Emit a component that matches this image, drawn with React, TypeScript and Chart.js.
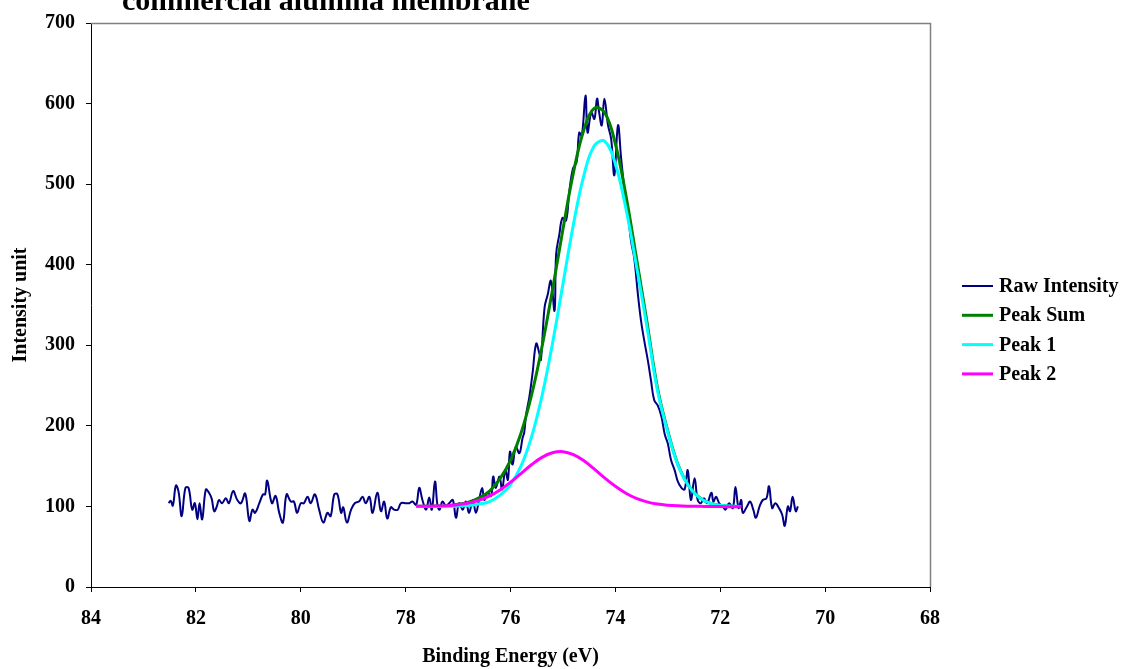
import React, { useEffect, useRef } from "react";
import { Chart, registerables } from "chart.js";

Chart.register(...registerables);

const CHART_TITLE = "commercial alumina membrane";
const X_TITLE = "Binding Energy (eV)";
const Y_TITLE = "Intensity unit";
const SERIES_LABELS = ["Raw Intensity", "Peak Sum", "Peak 1", "Peak 2"];
const SERIES_COLORS = ["#000080", "#008000", "#00FFFF", "#FF00FF"];

const X_MIN = 68;
const X_MAX = 84;
const X_STEP = 2;
const Y_MIN = 0;
const Y_MAX = 700;
const Y_STEP = 100;

const rawEnergy = [
  82.52, 82.48, 82.44, 82.38, 82.33, 82.27, 82.2, 82.14, 82.07, 82.02, 81.97, 81.93, 81.88, 81.81, 81.75, 81.7,
  81.65, 81.6, 81.56, 81.5, 81.43, 81.37, 81.29, 81.21, 81.14, 81.06, 80.98, 80.92, 80.87, 80.79, 80.72, 80.68,
  80.64, 80.55, 80.48, 80.41, 80.34, 80.27, 80.19, 80.13, 80.07, 80.0, 79.94, 79.87, 79.81, 79.73, 79.65, 79.57,
  79.49, 79.43, 79.36, 79.3, 79.23, 79.19, 79.12, 79.04, 78.97, 78.89, 78.82, 78.76, 78.69, 78.63, 78.54, 78.47,
  78.41, 78.35, 78.28, 78.22, 78.15, 78.09, 77.99, 77.93, 77.87, 77.8, 77.74, 77.68, 77.61, 77.55, 77.5, 77.44,
  77.39, 77.35, 77.3, 77.23, 77.17, 77.1, 77.04, 76.98, 76.91, 76.85, 76.79, 76.72, 76.66, 76.6, 76.54, 76.5,
  76.44, 76.37, 76.33, 76.28, 76.21, 76.16, 76.1, 76.05, 76.01, 75.96, 75.9, 75.83, 75.77, 75.74, 75.7, 75.64,
  75.58, 75.51, 75.45, 75.42, 75.35, 75.29, 75.23, 75.16, 75.13, 75.07, 75.01, 74.94, 74.88, 74.81, 74.74, 74.69,
  74.64, 74.57, 74.53, 74.46, 74.4, 74.35, 74.31, 74.26, 74.21, 74.14, 74.08, 74.02, 73.95, 73.89, 73.83, 73.76,
  73.7, 73.64, 73.57, 73.51, 73.45, 73.38, 73.32, 73.26, 73.19, 73.12, 73.06, 73.0, 72.94, 72.87, 72.81, 72.74,
  72.68, 72.62, 72.56, 72.49, 72.43, 72.37, 72.31, 72.25, 72.17, 72.13, 72.08, 72.02, 71.95, 71.9, 71.83, 71.76,
  71.71, 71.65, 71.6, 71.57, 71.49, 71.43, 71.37, 71.32, 71.25, 71.19, 71.12, 71.07, 71.01, 70.95, 70.88, 70.82,
  70.77, 70.71, 70.67, 70.62, 70.56, 70.52,
];

const rawIntensity = [
  104, 107, 101, 126, 118, 88, 123, 123, 96, 104, 84, 104, 84, 121, 117, 110,
  94, 100, 108, 104, 110, 104, 119, 108, 104, 116, 82, 96, 92, 104, 115, 115,
  132, 104, 113, 92, 80, 115, 106, 106, 92, 104, 104, 112, 104, 115, 96, 80,
  92, 88, 115, 115, 92, 99, 80, 96, 104, 106, 112, 104, 112, 92, 117, 94,
  106, 85, 99, 96, 96, 104, 104, 104, 106, 102, 123, 108, 96, 111, 96, 131,
  100, 96, 106, 101, 104, 108, 86, 104, 96, 106, 92, 108, 92, 108, 123, 108,
  117, 113, 137, 123, 137, 121, 145, 133, 168, 152, 174, 166, 185, 191, 215, 236,
  265, 302, 290, 282, 347, 363, 380, 343, 413, 437, 458, 455, 490, 519, 527, 564,
  560, 610, 564, 589, 581, 606, 589, 573, 606, 573, 556, 511, 573, 532, 495, 462,
  429, 408, 363, 330, 306, 281, 256, 232, 225, 211, 190, 178, 158, 145, 131, 123,
  121, 145, 108, 135, 108, 104, 110, 104, 117, 106, 112, 104, 100, 96, 104, 98,
  124, 98, 108, 92, 100, 106, 96, 86, 100, 108, 110, 125, 98, 104, 98, 90,
  76, 100, 94, 112, 94, 100,
];

const fitEnergy = [
  77.8, 77.6, 77.4, 77.2, 77.0, 76.8, 76.6, 76.4, 76.2, 76.0, 75.8, 75.6, 75.4, 75.2, 75.0, 74.8,
  74.6, 74.4, 74.2, 74.0, 73.8, 73.6, 73.4, 73.2, 73.0, 72.8, 72.6, 72.4, 72.2, 72.0, 71.8, 71.6,
];

const peakSum = [
  100.1, 100.2, 100.4, 101, 102.6, 105.2, 110.7, 119, 134.5, 157, 190.8, 237.7, 297.9, 368.6, 444, 514.3,
  567.6, 594.3, 588.2, 550, 486.4, 409, 329.7, 248, 193.5, 150.7, 125.3, 111.1, 104, 101.3, 100.3, 99.5,
];

const peak1 = [
  100, 100, 100, 100, 100.4, 101, 103, 106, 114, 127, 150, 186, 237, 302, 376, 450,
  511, 548, 553, 525, 470, 399, 324, 245, 192, 150, 125, 111, 104, 101.5, 100.5, 100,
];

const peak2 = [
  100.1, 100.2, 100.4, 101, 102.2, 104.2, 107.7, 113, 120.5, 130, 140.8, 151.7, 160.9, 166.6, 168, 164.3,
  156.6, 146.3, 135.2, 125, 116.4, 110, 105.7, 103, 101.5, 100.7, 100.3, 100.1, 100, 99.8, 99.6, 99.5,
];

const FONT_FAMILY = '"Liberation Serif", "Times New Roman", Times, serif';

const toPoints = (xs: number[], ys: number[]) => xs.map((x, i) => ({ x, y: ys[i] }));

const frameLegendTitlePlugin = {
  id: "frameLegendTitle",
  beforeDatasetsDraw(chart: any) {
    const { ctx, chartArea } = chart;
    ctx.save();
    ctx.strokeStyle = "#808080";
    ctx.lineWidth = 1.5;
    ctx.beginPath();
    ctx.moveTo(chartArea.left, chartArea.top + 0.5);
    ctx.lineTo(chartArea.right + 0.5, chartArea.top + 0.5);
    ctx.lineTo(chartArea.right + 0.5, chartArea.bottom);
    ctx.stroke();
    ctx.restore();
  },
  afterDraw(chart: any) {
    const { ctx } = chart;
    ctx.save();
    // title (partly cut off at the top, as in the reference)
    ctx.font = `bold 30px ${FONT_FAMILY}`;
    ctx.fillStyle = "#000";
    ctx.textAlign = "left";
    ctx.textBaseline = "alphabetic";
    ctx.fillText(CHART_TITLE, 122, 10);

    // legend
    ctx.font = `bold 20px ${FONT_FAMILY}`;
    ctx.textBaseline = "middle";
    chart.data.datasets.forEach((ds: any, i: number) => {
      const y = 286 + i * 29.3;
      ctx.strokeStyle = ds.borderColor;
      ctx.lineWidth = ds.borderWidth;
      ctx.beginPath();
      ctx.moveTo(962, y);
      ctx.lineTo(993, y);
      ctx.stroke();
      ctx.fillStyle = "#000";
      ctx.fillText(ds.label, 999, y + 1);
    });
    ctx.restore();
  },
};

export default function App() {
  const canvasRef = useRef<HTMLCanvasElement | null>(null);

  useEffect(() => {
    if (!canvasRef.current) return;
    Chart.defaults.font.family = FONT_FAMILY;
    Chart.defaults.color = "#000";

    const chart = new Chart(canvasRef.current, {
      type: "line",
      data: {
        datasets: [
          {
            label: SERIES_LABELS[0],
            data: toPoints(rawEnergy, rawIntensity),
            borderColor: SERIES_COLORS[0],
            borderWidth: 2,
            pointRadius: 0,
            tension: 0.4,
            order: 4,
          },
          {
            label: SERIES_LABELS[1],
            data: toPoints(fitEnergy, peakSum),
            borderColor: SERIES_COLORS[1],
            borderWidth: 3,
            pointRadius: 0,
            tension: 0.4,
            order: 3,
          },
          {
            label: SERIES_LABELS[2],
            data: toPoints(fitEnergy, peak1),
            borderColor: SERIES_COLORS[2],
            borderWidth: 3,
            pointRadius: 0,
            tension: 0.4,
            order: 2,
          },
          {
            label: SERIES_LABELS[3],
            data: toPoints(fitEnergy, peak2),
            borderColor: SERIES_COLORS[3],
            borderWidth: 3,
            pointRadius: 0,
            tension: 0.4,
            order: 1,
          },
        ],
      },
      options: {
        animation: false,
        responsive: false,
        devicePixelRatio: 1,
        layout: { padding: { left: 0, top: 20, right: 192, bottom: 0 } },
        plugins: {
          legend: { display: false },
          title: { display: false },
          tooltip: { enabled: false },
        },
        scales: {
          x: {
            type: "linear",
            min: X_MIN,
            max: X_MAX,
            reverse: true,
            afterFit: (s: any) => {
              s.height = 82;
            },
            ticks: {
              stepSize: X_STEP,
              padding: 15,
              font: { size: 20, weight: "bold" },
              color: "#000",
              maxRotation: 0,
            },
            grid: { drawOnChartArea: false, drawTicks: true, tickLength: 5, color: "#000" },
            border: { color: "#000", width: 1 },
            title: {
              display: true,
              text: X_TITLE,
              font: { size: 20, weight: "bold" },
              color: "#000",
              padding: { top: 0, bottom: 0 },
            },
          },
          y: {
            type: "linear",
            min: Y_MIN,
            max: Y_MAX,
            afterFit: (s: any) => {
              s.width = 91;
            },
            ticks: {
              stepSize: Y_STEP,
              padding: 11,
              font: { size: 20, weight: "bold" },
              color: "#000",
            },
            grid: { drawOnChartArea: false, drawTicks: true, tickLength: 5, color: "#000" },
            border: { color: "#000", width: 1 },
            title: {
              display: true,
              text: Y_TITLE,
              font: { size: 20, weight: "bold" },
              color: "#000",
              padding: { top: 9, bottom: 0 },
            },
          },
        },
      },
      plugins: [frameLegendTitlePlugin],
    });

    return () => chart.destroy();
  }, []);

  return (
    <div style={{ position: "absolute", left: 0, top: 0, width: 1122, height: 669, background: "#fff" }}>
      <canvas ref={canvasRef} width={1122} height={669} style={{ display: "block", width: 1122, height: 669 }} />
    </div>
  );
}
